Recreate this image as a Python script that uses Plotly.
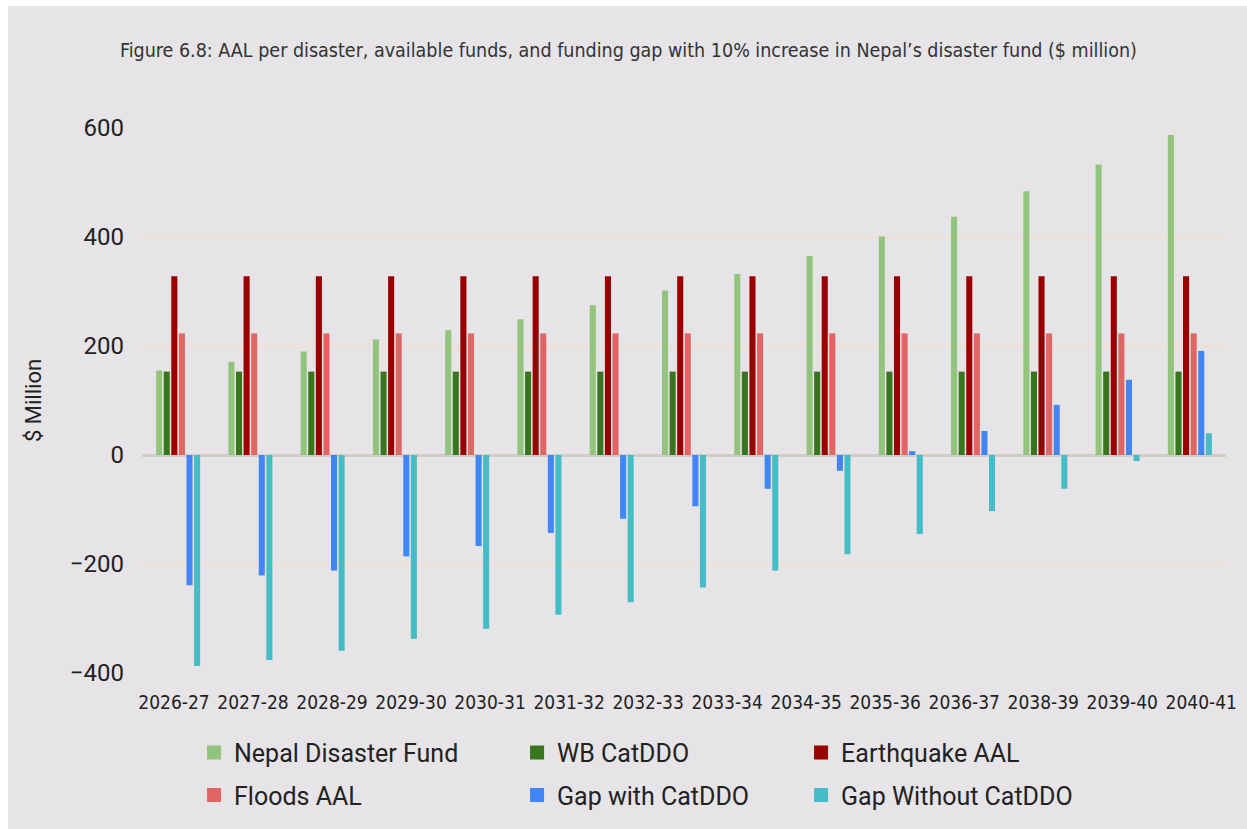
import plotly.graph_objects as go

# Fiscal years (one group of bars per year)
years = ["2026-27", "2027-28", "2028-29", "2029-30", "2030-31", "2031-32", "2032-33",
         "2033-34", "2034-35", "2035-36", "2036-37", "2037-38", "2038-39", "2039-40", "2040-41"]
# Labels printed under the axis
tick_labels = ["2026-27", "2027-28", "2028-29", "2029-30", "2030-31", "2031-32", "2032-33",
               "2033-34", "2034-35", "2035-36", "2036-37", "2038-39", "2039-40", "2040-41"]

nepal_fund = [155, 171, 190, 212, 229, 249, 275, 302, 332, 365, 401, 437, 484, 533, 587]
wb_catddo = [153, 153, 153, 153, 153, 153, 153, 153, 153, 153, 153, 153, 153, 153, 153]
earthquake_aal = [328, 328, 328, 328, 328, 328, 328, 328, 328, 328, 328, 328, 328, 328, 328]
floods_aal = [223, 223, 223, 223, 223, 223, 223, 223, 223, 223, 223, 223, 223, 223, 223]
gap_with = [-239, -221, -212, -186, -167, -143, -117, -94, -62, -29, 7, 44, 92, 138, 191]
gap_without = [-387, -376, -359, -337, -319, -293, -270, -243, -212, -182, -145, -103, -62, -11, 40]

series = [
    ("Nepal Disaster Fund", nepal_fund, "#93c47d", "legend"),
    ("WB CatDDO", wb_catddo, "#38761d", "legend2"),
    ("Earthquake AAL", earthquake_aal, "#990000", "legend3"),
    ("Floods AAL", floods_aal, "#e06666", "legend"),
    ("Gap with CatDDO", gap_with, "#4285f4", "legend2"),
    ("Gap Without CatDDO", gap_without, "#46bdc6", "legend3"),
]

NARROW = "DejaVu Sans Condensed, Liberation Sans Narrow, sans-serif"
REG = "Roboto, Noto Sans, sans-serif"

x_pos = list(range(len(years)))

fig = go.Figure()
for name, vals, color, leg in series:
    fig.add_trace(go.Bar(
        x=x_pos, y=vals, name=name, marker=dict(color=color, line=dict(width=0)),
        showlegend=False, customdata=years,
        hovertemplate="%{customdata}<br>" + name + ": %{y}<extra></extra>",
    ))
# Legend swatches: square markers with no visible points
for name, vals, color, leg in series:
    fig.add_trace(go.Scatter(
        x=[None], y=[None], mode="markers", name=name, legend=leg, legendgroup=name,
        marker=dict(symbol="square", size=14, color=color),
    ))

# Year labels run slightly wider than the plot area
span = len(years)
label_first, label_step = 0.0295, 0.0729   # fractions of the axis width
tickvals = [-0.5 + span * (label_first + i * label_step) for i in range(len(tick_labels))]

bg = "#e6e4e7"
legend_common = dict(
    orientation="v", bgcolor="rgba(0,0,0,0)", yanchor="top", xanchor="left",
    font=dict(family=REG, size=25, color="#222222"), tracegroupgap=7,
    itemclick=False, itemdoubleclick=False,
)

fig.update_layout(
    width=1247, height=829,
    paper_bgcolor="white", plot_bgcolor=bg,
    margin=dict(l=142, r=21, t=128, b=156, autoexpand=False),
    barmode="group", bargap=0.37, bargroupgap=0.2,
    showlegend=True,
    legend=dict(x=0.048, y=-0.104, **legend_common),
    legend2=dict(x=0.346, y=-0.104, **legend_common),
    legend3=dict(x=0.608, y=-0.104, **legend_common),
    xaxis=dict(
        range=[-0.5, span - 0.5], tickmode="array", tickvals=tickvals, ticktext=tick_labels,
        showgrid=False, zeroline=False, showline=False, ticks="", ticklabelstandoff=16,
        automargin=False,
        tickfont=dict(family=NARROW, size=19, color="#222222"),
    ),
    yaxis=dict(
        range=[-400, 600], tickvals=[-400, -200, 0, 200, 400, 600],
        showgrid=True, gridcolor="#efe1d9", gridwidth=3,
        zeroline=True, zerolinecolor="#d2ccc7", zerolinewidth=3,
        showline=False, ticks="", ticklabelstandoff=17, automargin=False,
        tickfont=dict(family=REG, size=24, color="#222222"),
        title=dict(text="$ Million", font=dict(family=REG, size=22, color="#222222"), standoff=22),
    ),
    shapes=[dict(type="rect", xref="paper", yref="paper",
                 x0=(8 - 142) / 1084, x1=1.03, y0=-0.3, y1=(673 - 6) / 545,
                 fillcolor=bg, line=dict(width=0), layer="below")],
    annotations=[dict(
        text="Figure 6.8: AAL per disaster, available funds, and funding gap with 10% increase in Nepal\u2019s disaster fund ($ million)",
        xref="paper", yref="paper", x=(628 - 142) / 1084, y=(673 - 50) / 545,
        xanchor="center", yanchor="middle", showarrow=False,
        font=dict(family=NARROW, size=19.5, color="#333333"),
    )],
)

fig.write_html("out.html")
